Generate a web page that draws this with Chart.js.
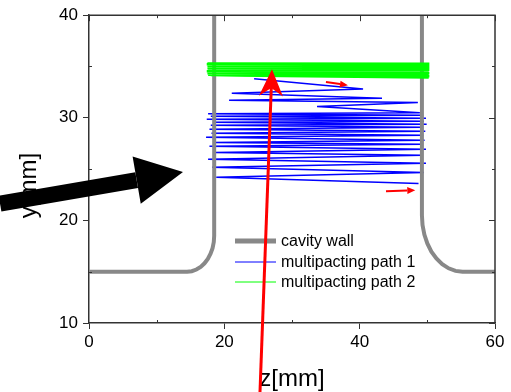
<!DOCTYPE html>
<html>
<head>
<meta charset="utf-8">
<script src="https://cdn.jsdelivr.net/npm/chart.js@4.4.1/dist/chart.umd.min.js"></script>
<style>
html, body { margin: 0; padding: 0; background: #fff; }
</style>
</head>
<body>
<canvas id="chart" width="511" height="392"></canvas>
<script>
// axis ticks
const xTicks = [0, 20, 40, 60];
const yTicks = [10, 20, 30, 40];
const xMinor = [10, 30, 50];
const yMinor = [15, 25, 35];

// cavity wall, left and right halves
const wallLeftX = [0, 14.5, 15.19, 15.87, 16.5, 17.07, 17.56, 17.96, 18.26, 18.44, 18.5, 18.5];
const wallLeftY = [15, 15, 15.05, 15.21, 15.47, 15.82, 16.25, 16.75, 17.3, 17.89, 18.5, 40];
const wallRightX = [49.2, 49.2, 49.29, 49.56, 50.0, 50.6, 51.34, 52.2, 53.15, 54.16, 55.2, 60];
const wallRightY = [40, 20.5, 19.55, 18.62, 17.75, 16.96, 16.29, 15.74, 15.33, 15.08, 15, 15];

// multipacting path 1 (blue)
const path1X = [24.4, 40.5, 21.1, 43.3, 20.7, 48.6, 33.7, 48.9,
  17.6, 49.4, 18.0, 49.8, 17.4, 49.5, 18.3, 49.9, 18.0, 49.3, 17.8, 49.7,
  18.1, 49.4, 17.3, 49.6, 18.4, 49.2, 17.8, 49.8, 18.6, 49.3, 17.6, 49.8,
  18.2, 49.5, 18.8, 48.7];
const path1Y = [33.8, 32.8, 32.4, 31.9, 31.7, 31.5, 31.1, 30.5,
  30.4, 30.24, 30.15, 29.95, 29.85, 29.66, 29.56, 29.37, 29.27, 29.07, 28.88, 28.68,
  28.49, 28.29, 28.1, 27.8, 27.6, 27.41, 27.22, 26.93, 26.63, 26.34, 25.95, 25.56,
  25.17, 24.68, 24.2, 23.6];

// multipacting path 2 (green)
const path2X = [17.5, 50.3, 17.4, 50.2, 17.6, 50.3, 17.5, 50.1, 17.8, 50.3,
  17.5, 50.2, 17.6, 50.3, 17.8, 50.1, 17.4, 50.2, 17.7, 50.3,
  17.5, 50.1, 17.9, 50.2, 17.6, 50.3, 18.0, 50.2];
const path2Y = [35.3, 35.27, 35.22, 35.18, 35.13, 35.08, 35.03, 34.98, 34.93, 34.87,
  34.83, 34.77, 34.73, 34.66, 34.63, 34.55, 34.53, 34.45, 34.43, 34.35,
  34.33, 34.25, 34.25, 34.15, 34.2, 34.05, 34.15, 33.92];

const legendLabels = ["cavity wall", "multipacting path 1", "multipacting path 2"];
const legendColors = ["#888888", "#0000ff", "#00ff00"];
const legendWidths = [5, 1, 1];
const legendRows = [241, 262, 282];

// annotation arrows (data units)
const arrowFrom = [[-13.15, 21.64], [25.27, 3.28], [35.02, 33.49], [43.89, 22.83]];
const arrowTo = [[13.89, 24.71], [27.04, 34.74], [38.27, 33.17], [48.22, 22.93]];

const FONT = "Arial, 'Liberation Sans', sans-serif";

function pts(xs, ys) {
	return xs.map((x, i) => ({ x: x, y: ys[i] }));
}

function drawArrow(ctx, x1, y1, x2, y2, w, hl, hw, notch, color) {
	const a = Math.atan2(y2 - y1, x2 - x1);
	const c = Math.cos(a), s = Math.sin(a);
	const bx = x2 - c * hl * (1 - notch), by = y2 - s * hl * (1 - notch);
	const hx = x2 - c * hl, hy = y2 - s * hl;
	ctx.strokeStyle = color;
	ctx.lineWidth = w;
	ctx.lineCap = "butt";
	ctx.beginPath();
	ctx.moveTo(x1, y1);
	ctx.lineTo(bx, by);
	ctx.stroke();
	ctx.fillStyle = color;
	ctx.beginPath();
	ctx.moveTo(x2, y2);
	ctx.lineTo(hx - s * hw, hy + c * hw);
	ctx.lineTo(bx, by);
	ctx.lineTo(hx + s * hw, hy - c * hw);
	ctx.closePath();
	ctx.fill();
}

const extras = {
	id: "extras",
	afterDatasetsDraw(chart) {
		const ctx = chart.ctx;
		const xs = chart.scales.x, ys = chart.scales.y;
		const { left, right, top, bottom } = chart.chartArea;
		ctx.save();
		ctx.strokeStyle = "#333";
		ctx.lineWidth = 1.5;
		ctx.beginPath();
		ctx.moveTo(left, top);
		ctx.lineTo(right, top);
		ctx.lineTo(right, bottom);
		ctx.stroke();
		ctx.lineWidth = 1;
		ctx.beginPath();
		xTicks.forEach(v => {
			const p = Math.round(xs.getPixelForValue(v)) + 0.5;
			ctx.moveTo(p, top); ctx.lineTo(p, top + 6);
		});
		xMinor.forEach(v => {
			const p = Math.round(xs.getPixelForValue(v)) + 0.5;
			ctx.moveTo(p, top); ctx.lineTo(p, top + 3);
			ctx.moveTo(p, bottom); ctx.lineTo(p, bottom - 3);
		});
		yTicks.forEach(v => {
			const p = Math.round(ys.getPixelForValue(v)) + 0.5;
			ctx.moveTo(right, p); ctx.lineTo(right - 6, p);
		});
		yMinor.forEach(v => {
			const p = Math.round(ys.getPixelForValue(v)) + 0.5;
			ctx.moveTo(right, p); ctx.lineTo(right - 3, p);
			ctx.moveTo(left, p); ctx.lineTo(left + 3, p);
		});
		ctx.stroke();
		ctx.restore();
	},
	afterDraw(chart) {
		const ctx = chart.ctx;
		const xs = chart.scales.x, ys = chart.scales.y;
		const { left } = chart.chartArea;
		ctx.save();

		// legend
		ctx.font = "16px " + FONT;
		ctx.textBaseline = "middle";
		ctx.textAlign = "left";
		legendLabels.forEach((lab, i) => {
			const y = legendRows[i];
			ctx.strokeStyle = legendColors[i];
			ctx.lineWidth = legendWidths[i];
			ctx.beginPath();
			ctx.moveTo(left + 146, y);
			ctx.lineTo(left + 187, y);
			ctx.stroke();
			ctx.fillStyle = "#000";
			ctx.fillText(lab, left + 192, y + 1);
		});

		// axis titles
		ctx.font = "24px " + FONT;
		ctx.fillStyle = "#000";
		ctx.textBaseline = "alphabetic";
		ctx.textAlign = "center";
		ctx.fillText("z[mm]", (xs.left + xs.right) / 2, 385.5);
		ctx.translate(36, 185.5);
		ctx.rotate(-Math.PI / 2);
		ctx.fillText("y[mm]", 0, 0);
		ctx.setTransform(1, 0, 0, 1, 0, 0);

		// arrows
		const widths = [16, 3, 2, 2];
		const heads = [47, 27, 8, 8];
		const halves = [24, 12, 3.5, 3.5];
		const notches = [0, 0.3, 0, 0];
		const colors = ["#000000", "#ff0000", "#ff0000", "#ff0000"];
		arrowFrom.forEach((f, i) => {
			const t = arrowTo[i];
			drawArrow(ctx,
				xs.getPixelForValue(f[0]), ys.getPixelForValue(f[1]),
				xs.getPixelForValue(t[0]), ys.getPixelForValue(t[1]),
				widths[i], heads[i], halves[i], notches[i], colors[i]);
		});
		ctx.restore();
	}
};

const lineStyle = { showLine: true, pointRadius: 0, tension: 0, fill: false };

const theChart = new Chart(document.getElementById("chart"), {
	type: "scatter",
	data: {
		datasets: [
			{ ...lineStyle, label: "multipacting path 2", data: pts(path2X, path2Y), borderColor: "#00ff00", borderWidth: 2.5, order: 0 },
			{ ...lineStyle, label: "cavity wall", data: pts(wallLeftX, wallLeftY), borderColor: "#888888", borderWidth: 4, order: 1 },
			{ ...lineStyle, label: "cavity wall", data: pts(wallRightX, wallRightY), borderColor: "#888888", borderWidth: 4, order: 1 },
			{ ...lineStyle, label: "multipacting path 1", data: pts(path1X, path1Y), borderColor: "#0000ff", borderWidth: 1.5, order: 2 },
		],
	},
	options: {
		responsive: false,
		animation: false,
		layout: { padding: { left: 0, top: 15, right: 16, bottom: 0 } },
		plugins: { legend: { display: false }, tooltip: { enabled: false } },
		scales: {
			x: {
				type: "linear",
				min: 0,
				max: 60,
				afterFit(scale) { scale.height = 69; },
				afterBuildTicks(scale) { scale.ticks = xTicks.map(v => ({ value: v })); },
				grid: { drawOnChartArea: false, drawTicks: true, tickLength: 6, color: "#333", lineWidth: 1 },
				border: { display: true, color: "#333", width: 1.5 },
				ticks: { color: "#000", padding: 3, font: { family: FONT, size: 17 } },
			},
			y: {
				type: "linear",
				min: 10,
				max: 40,
				afterFit(scale) { scale.width = 89; },
				afterBuildTicks(scale) { scale.ticks = yTicks.map(v => ({ value: v })); },
				grid: { drawOnChartArea: false, drawTicks: true, tickLength: 6, color: "#333", lineWidth: 1 },
				border: { display: true, color: "#333", width: 1.5 },
				ticks: { color: "#000", padding: 5, font: { family: FONT, size: 17 } },
			},
		},
	},
	plugins: [extras],
});
</script>
</body>
</html>
